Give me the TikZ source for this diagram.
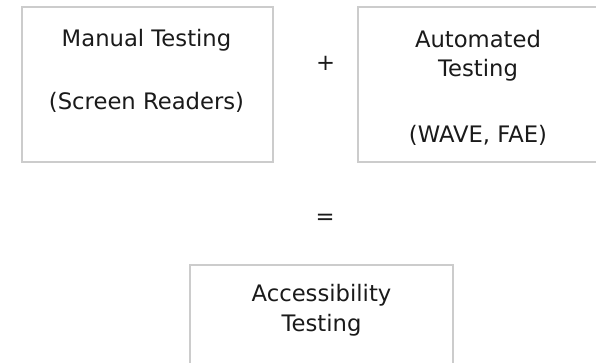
\documentclass[tikz,border=0pt]{standalone}
\usepackage{fontspec}
\setmainfont{DejaVu Sans}
\definecolor{boxgray}{HTML}{CCCCCC}
\definecolor{txt}{HTML}{1A1A1A}
\begin{document}
\begin{tikzpicture}[x=1pt,y=-1pt,
  box/.style={draw=boxgray,line width=2pt},
  lbl/.style={anchor=base,inner sep=0pt,text=txt,font=\fontsize{22.7}{26}\selectfont}]
\useasboundingbox (0,0) rectangle (596,363);
\draw[box] (22,7) rectangle (273,162);
\draw[box] (358,7) rectangle (598,162);
\draw[box] (190,265) rectangle (453,420);
\node[lbl] (m1) at (146.5,46.8) {Manual Testing};
\node[lbl] (m2) at (146.5,109.5) {(Screen Readers)};
\node[lbl] (a1) at (478,47.3) {Automated};
\node[lbl] (a2) at (478,77) {Testing};
\node[lbl] (a3) at (478,143) {(WAVE, FAE)};
\node[lbl] (plus) at (325.7,71) {+};
\node[lbl] (eq) at (325.2,224.5) {=};
\node[lbl] (c1) at (321.5,301.7) {Accessibility};
\node[lbl] (c2) at (321.5,331) {Testing};
\end{tikzpicture}
\end{document}
